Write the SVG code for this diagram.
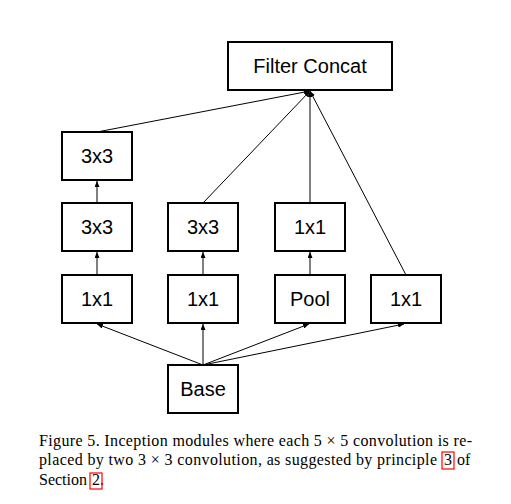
<svg xmlns="http://www.w3.org/2000/svg" width="511" height="504" viewBox="0 0 511 504">
<style>
.box{fill:#fff;stroke:#000;stroke-width:2}
.lbl{font-family:"Liberation Sans",Arial,sans-serif;font-size:20px;text-anchor:middle;fill:#000}
.ln{stroke:#000;stroke-width:1;fill:none}
.gl{stroke:#555;stroke-width:1.5;fill:none}
.cap{font-family:"Liberation Serif","Times New Roman",serif;font-size:16px;fill:#000}
.ref{fill:none;stroke:#f00;stroke-width:1.2}
</style>
<defs>
<marker id="ah" viewBox="0 0 10 10" refX="10" refY="5" markerWidth="6" markerHeight="5" markerUnits="userSpaceOnUse" orient="auto" preserveAspectRatio="none">
<path d="M0,0 L10,5 L0,10 z" fill="#000"/>
</marker>
</defs>
<rect width="511" height="504" fill="#fff"/>
<g id="connectors">
<line class="ln" x1="97" y1="132" x2="310" y2="91" marker-end="url(#ah)"/>
<line class="ln" x1="203" y1="203" x2="310" y2="91" marker-end="url(#ah)"/>
<line class="gl" x1="310" y1="203" x2="310" y2="91" marker-end="url(#ah)"/>
<line class="ln" x1="406" y1="275" x2="310" y2="91" marker-end="url(#ah)"/>
<line class="gl" x1="97" y1="203" x2="97" y2="181" marker-end="url(#ah)"/>
<line class="gl" x1="97" y1="275" x2="97" y2="252" marker-end="url(#ah)"/>
<line class="ln" x1="203" y1="275" x2="203" y2="252" marker-end="url(#ah)"/>
<line class="gl" x1="310" y1="275" x2="310" y2="252" marker-end="url(#ah)"/>
<line class="ln" x1="203" y1="365" x2="97" y2="324" marker-end="url(#ah)"/>
<line class="ln" x1="203" y1="365" x2="203" y2="324" marker-end="url(#ah)"/>
<line class="ln" x1="203" y1="365" x2="309" y2="324" marker-end="url(#ah)"/>
<line class="ln" x1="203" y1="365" x2="404" y2="324" marker-end="url(#ah)"/>
</g>
<g id="concat"><rect class="box" x="228" y="42" width="164" height="48"/><text class="lbl" x="310" y="73">Filter Concat</text></g>
<g id="l3x3a"><rect class="box" x="62" y="132" width="70" height="48"/><text class="lbl" x="97" y="163">3x3</text></g>
<g id="l3x3b"><rect class="box" x="62" y="203" width="70" height="48"/><text class="lbl" x="97" y="234">3x3</text></g>
<g id="l1x1"><rect class="box" x="62" y="275" width="70" height="48"/><text class="lbl" x="97" y="306">1x1</text></g>
<g id="m3x3"><rect class="box" x="168" y="203" width="70" height="48"/><text class="lbl" x="203" y="234">3x3</text></g>
<g id="m1x1"><rect class="box" x="168" y="275" width="70" height="48"/><text class="lbl" x="203" y="306">1x1</text></g>
<g id="p1x1"><rect class="box" x="275" y="203" width="70" height="48"/><text class="lbl" x="310" y="234">1x1</text></g>
<g id="pool"><rect class="box" x="275" y="275" width="70" height="48"/><text class="lbl" x="310" y="306">Pool</text></g>
<g id="r1x1"><rect class="box" x="371" y="275" width="70" height="48"/><text class="lbl" x="406" y="306">1x1</text></g>
<g id="base"><rect class="box" x="168" y="365" width="70" height="48"/><text class="lbl" x="203" y="396">Base</text></g>
<g id="caption">
<text class="cap" x="39" y="446" textLength="433" lengthAdjust="spacing">Figure 5. Inception modules where each 5 × 5 convolution is re-</text>
<text class="cap" x="39" y="465" textLength="398" lengthAdjust="spacing">placed by two 3 × 3 convolution, as suggested by principle</text>
<text class="cap" x="444" y="465">3</text>
<text class="cap" x="457" y="465">of</text>
<text class="cap" x="39" y="485">Section</text>
<text class="cap" x="92" y="485">2.</text>
<rect class="ref" x="442" y="452" width="12" height="17"/>
<rect class="ref" x="90" y="473" width="12" height="16"/>
</g>
</svg>
